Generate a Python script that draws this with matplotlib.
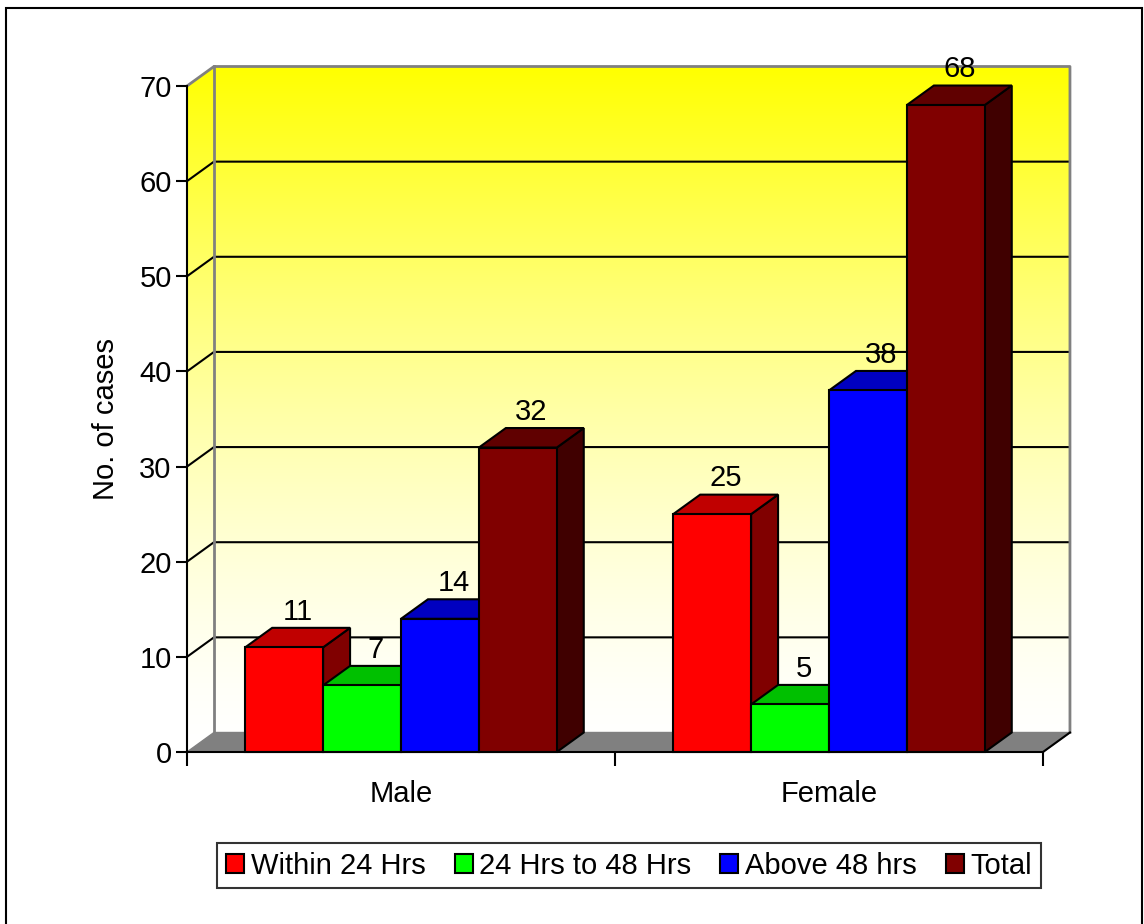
import numpy as np
import matplotlib.pyplot as plt
from matplotlib.patches import Polygon, Rectangle, Patch

plt.rcParams['font.family'] = ['Liberation Sans', 'DejaVu Sans']

# Data
groups = ["Male", "Female"]
series = ["Within 24 Hrs", "24 Hrs to 48 Hrs", "Above 48 hrs", "Total"]
within_24 = [11, 25]
hrs_24_48 = [7, 5]
above_48 = [14, 38]
total = [32, 68]
yticks = [0, 10, 20, 30, 40, 50, 60, 70]

front_colors = ["#FF0000", "#00FF00", "#0000FF", "#800000"]
top_colors = ["#C00000", "#00C000", "#0000C0", "#600000"]
side_colors = ["#800000", "#008000", "#000080", "#400000"]

FS = 21

W, H = 1144, 924
ax_l, ax_b, ax_w, ax_h = 187 / W, (H - 752) / H, 856 / W, 666 / H

ymax = yticks[-1]
n_groups = len(groups)
bar_w = 0.182          # bar width in category units
dx = 0.063             # depth offset (x units)
dy = 2.05              # depth offset (value units)

fig = plt.figure(figsize=(W / 100, H / 100), dpi=100)
# background axes that holds the wall gradient (front plane + depth)
ax_bg = fig.add_axes([ax_l, ax_b, ax_w * (1 + dx / n_groups), ax_h * (1 + dy / ymax)])
ax_bg.set_axis_off()
ax = fig.add_axes([ax_l, ax_b, ax_w, ax_h])
ax.set_xlim(0, n_groups)
ax.set_ylim(0, ymax)

# back wall + left wall gradient (yellow top -> white bottom)
grad = np.ones((256, 2, 3))
grad[:, :, 2] = (1 - np.linspace(0, 1, 256) ** 1.5)[:, None]
im = ax_bg.imshow(grad, extent=[0, 1, 0, 1], origin='lower', aspect='auto',
                  interpolation='bilinear')
ax_bg.set_xlim(0, 1)
ax_bg.set_ylim(0, 1)
wall = Polygon([(0, 0), (dx, dy), (n_groups + dx, dy), (n_groups + dx, ymax + dy),
                (dx, ymax + dy), (0, ymax)], closed=True, transform=ax.transData)
im.set_clip_path(wall)

# gridlines on back wall and side wall
for k in yticks[1:-1]:
    ax.plot([0, dx, n_groups + dx], [k, k + dy, k + dy], color='black', lw=1.5,
            zorder=1, clip_on=False)

# wall borders
ax.plot([0, dx, n_groups + dx, n_groups + dx], [ymax, ymax + dy, ymax + dy, dy],
        color='#808080', lw=2, zorder=1, clip_on=False)
ax.plot([dx, dx], [dy, ymax + dy], color='#808080', lw=2, zorder=1, clip_on=False)

# floor
floor = Polygon([(0, 0), (n_groups, 0), (n_groups + dx, dy), (dx, dy)], closed=True,
                fc='#808080', ec='#808080', lw=1, zorder=2, clip_on=False)
ax.add_patch(floor)
ax.plot([n_groups, n_groups + dx], [0, dy], color='black', lw=1.5, zorder=2, clip_on=False)

# bars
data = [within_24, hrs_24_48, above_48, total]
for g in range(n_groups):
    for i in range(len(series)):
        v = data[i][g]
        x0 = g + 0.5 + (i - 2) * bar_w
        x1 = x0 + bar_w
        side = Polygon([(x1, 0), (x1 + dx, dy), (x1 + dx, v + dy), (x1, v)],
                       fc=side_colors[i], ec='black', lw=1.5, zorder=5, clip_on=False)
        top = Polygon([(x0, v), (x1, v), (x1 + dx, v + dy), (x0 + dx, v + dy)],
                      fc=top_colors[i], ec='black', lw=1.5, zorder=5, clip_on=False)
        front = Rectangle((x0, 0), bar_w, v, fc=front_colors[i], ec='black', lw=1.5,
                          zorder=5, clip_on=False)
        ax.add_patch(side)
        ax.add_patch(top)
        ax.add_patch(front)
        ax.text(x0 + bar_w / 2 + dx / 2, v + dy + 1.7, str(v), ha='center', va='center',
                fontsize=FS, zorder=10)

# axes styling
for s in ['top', 'right']:
    ax.spines[s].set_visible(False)
ax.spines['left'].set_linewidth(1.5)
ax.spines['bottom'].set_linewidth(1.5)
ax.spines['left'].set_zorder(6)
ax.spines['bottom'].set_zorder(6)
ax.set_facecolor('none')

ax.set_yticks(yticks)
ax.tick_params(axis='y', direction='out', length=8, width=1.5, labelsize=FS, pad=3)
ax.set_xticks(range(n_groups + 1))
ax.set_xticklabels([])
ax.tick_params(axis='x', which='major', direction='out', length=10, width=1.5)
ax.set_xticks([g + 0.5 for g in range(n_groups)], minor=True)
ax.set_xticklabels(groups, minor=True)
ax.tick_params(axis='x', which='minor', length=0, labelsize=FS, pad=20)
ax.set_ylabel("No. of cases", fontsize=FS, labelpad=14)

handles = [Patch(fc=c, ec='black', lw=1.5) for c in front_colors]
leg = fig.legend(handles, series, loc='center', bbox_to_anchor=(629 / W, 1 - 865.5 / H),
                 ncol=4, fontsize=FS, handlelength=0.62, handleheight=0.62,
                 handletextpad=0.22, columnspacing=1.0, frameon=True, fancybox=False,
                 edgecolor='black', borderpad=0.3, borderaxespad=0)
leg.get_frame().set_linewidth(1.5)

# outer chart border
fig.add_artist(Rectangle((6 / W, -0.01), (1142 - 6) / W, 1 - 8 / H + 0.01,
                         transform=fig.transFigure, fill=False, ec='black', lw=1.5))

fig.savefig('out.png', dpi=100)
